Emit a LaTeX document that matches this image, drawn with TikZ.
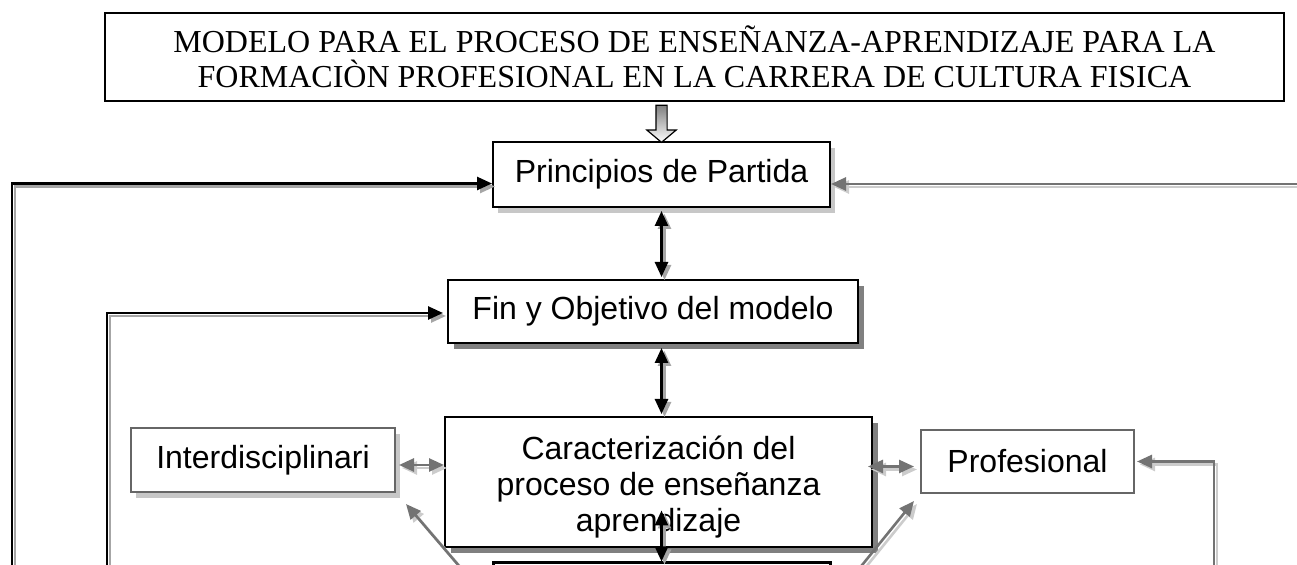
\documentclass[tikz,border=0pt]{standalone}
\usepackage{fontspec}
\setmainfont{Liberation Serif}
\newfontfamily\arial{Liberation Sans}
\usetikzlibrary{arrows.meta,shapes.arrows,shadows,calc}

\tikzset{
  punta/.tip={Triangle[length=7.5pt,width=6.5pt]},
  caja/.style={draw, line width=1pt, fill=white, inner sep=0pt, align=center,
    font=\arial\fontsize{16}{18}\selectfont},
  cajagris/.style={caja, draw=black!60},
  sombraoscura/.style={drop shadow={shadow xshift=3pt, shadow yshift=-3pt, fill=black!50, opacity=1}},
  sombraclara/.style={drop shadow={shadow xshift=2.5pt, shadow yshift=-3pt, fill=black!22, opacity=1}},
  linea/.style={draw=black, line width=1.3pt,
    preaction={draw=black!35, line width=1.3pt, transform canvas={shift={(1.5pt,-1.5pt)}}}},
  lineagris/.style={draw=black!55, line width=1.3pt,
    preaction={draw=black!20, line width=1.3pt, transform canvas={shift={(1.5pt,-1.5pt)}}}},
  hueca/.style={single arrow, draw, line width=0.6pt, rotate=-90, inner sep=2.5pt,
    minimum height=18.5pt, single arrow head extend=4.5pt, single arrow tip angle=100,
    top color=black!50, bottom color=white}
}

\begin{document}
\begin{tikzpicture}[x=0.5pt,y=-0.5pt]
  \useasboundingbox (0,0) rectangle (1297,565);
  \clip (0,0) rectangle (1297,565);

  % cajas
  \node[draw, line width=1pt, minimum width=589.5pt, minimum height=44pt, align=center,
    font=\fontsize{16}{17.5}\selectfont] (titulo) at (694.5,57)
    {MODELO PARA EL PROCESO DE ENSEÑANZA-APRENDIZAJE PARA LA\\
     FORMACIÒN PROFESIONAL EN LA CARRERA DE CULTURA FISICA};
  \node[caja, sombraclara, minimum width=168.5pt, minimum height=32.5pt] (principios) at (661.5,174.5) {Principios de Partida};
  \node[caja, sombraoscura, minimum width=205pt, minimum height=31.5pt] (fin) at (653,311.5) {Fin y Objetivo del modelo};
  \node[caja, sombraoscura, minimum width=213.5pt, minimum height=65pt] (caract) at (658.5,482)
    {\rule{0pt}{17pt}Caracterización del\\proceso de enseñanza\\aprendizaje};
  \node[cajagris, sombraclara, minimum width=132pt, minimum height=32pt] (inter) at (263,460) {Interdisciplinari};
  \node[cajagris, minimum width=106.5pt, minimum height=31.5pt] (prof) at (1027.5,461.5) {Profesional};
  \node[caja, sombraoscura, line width=1.5pt, minimum width=168.5pt, minimum height=40pt] (base) at (661.5,603) {};

  \node[hueca] (bajada) at ($(principios.north |- titulo.south)!0.5!(principios.north)$) {};

  % extremos libres
  \coordinate (izq1) at (12,580);
  \coordinate (izq2) at (107,580);
  \coordinate (der1) at (1300,184);
  \coordinate (der2) at (1214,580);
  \coordinate (diag1) at (471,580);
  \coordinate (diag2) at (850,580);

  \draw[linea, -{punta}] (izq1) |- ($(principios.west)+(0,9)$);
  \draw[linea, -{punta}] (izq2) |- ($(fin.west)+(-4,1.5)$);
  \draw[lineagris, -{punta}] (der1) -- (principios.east |- der1);
  \draw[lineagris, -{punta}] (der2) |- ($(prof.east)+(2,0)$);

  \draw[linea, {punta}-{punta}] ($(principios.south)+(0,3)$) -- ($(principios.south |- fin.north)+(0,-2)$);
  \draw[linea, {punta}-{punta}] ($(principios.south |- fin.south)+(0,4)$) -- ($(principios.south |- caract.north)+(0,-2)$);
  \draw[linea, {punta}-{punta}] ($(base.north)+(0,-51)$) -- (base.north);

  \draw[lineagris, {punta}-{punta}] ($(inter.east)+(3,5)$) -- ($(caract.west |- inter.east)+(0,5)$);
  \draw[lineagris, {punta}-{punta}] ($(caract.east |- prof.west)+(-5,5)$) -- ($(prof.west)+(-6,5)$);

  \draw[lineagris, -{punta}] (diag1) -- ($(inter.south east)+(10,11)$);
  \draw[lineagris, -{punta}] (diag2) -- ($(prof.south west)+(-6,7)$);
\end{tikzpicture}
\end{document}
